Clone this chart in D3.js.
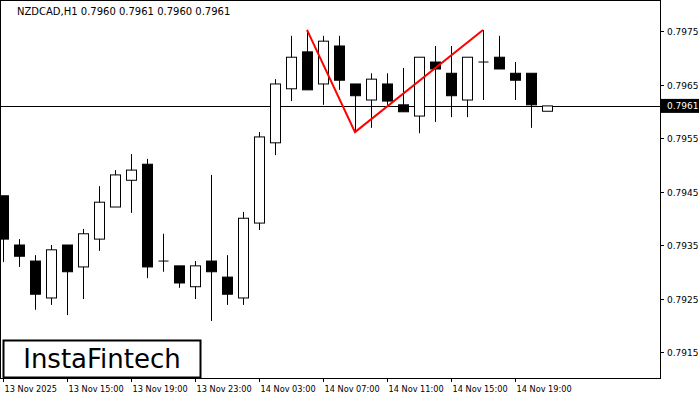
<!DOCTYPE html><html><head><meta charset="utf-8"><script src="https://cdn.jsdelivr.net/npm/d3@7"></script>
<style>body{margin:0;background:#fff}svg{display:block}text{font-family:"DejaVu Sans",sans-serif}</style></head><body><svg id="c" width="700" height="400"></svg>
<script>
const title="NZDCAD,H1  0.7960 0.7961 0.7960 0.7961";
const opens =[.79442,.79350,.79320,.79251,.79350,.79309,.79361,.79421,.79471,.79501,.79320,.79311,.79272,.79320,.79290,.79251,.79391,.79541,.79642,.79711,.79651,.79722,.79651,.79621,.79651,.79612,.79591,.79692,.79671,.79621,.79692,.79701,.79671,.79671,.7960];
const highs =[.79442,.79361,.79331,.79350,.79350,.79380,.79460,.79490,.79520,.79511,.79371,.79311,.79320,.79481,.79331,.79412,.79561,.79660,.79741,.79752,.79741,.79741,.79651,.79671,.79671,.79681,.79701,.79722,.79722,.79701,.79752,.79741,.79692,.79671,.7961];
const lows  =[.79318,.79309,.79229,.79238,.79219,.79249,.79339,.79421,.79410,.79288,.79300,.79270,.79249,.79208,.79238,.79238,.79378,.79518,.79619,.79640,.79612,.79640,.79561,.79569,.79612,.79599,.79559,.79580,.79589,.79589,.79621,.79679,.79621,.79569,.7960];
const closes=[.79361,.79329,.79258,.79341,.79300,.79371,.79430,.79481,.79490,.79309,.79320,.79279,.79311,.79300,.79258,.79400,.79552,.79651,.79701,.79640,.79731,.79658,.79629,.79660,.79619,.79599,.79701,.79679,.79629,.79701,.79692,.79679,.79658,.79612,.7961];
const xLabels=["13 Nov 2025","13 Nov 15:00","13 Nov 19:00","13 Nov 23:00","14 Nov 03:00","14 Nov 07:00","14 Nov 11:00","14 Nov 15:00","14 Nov 19:00"];
const yTicks=[0.7915,0.7925,0.7935,0.7945,0.7955,0.7965,0.7975];
const currentPrice=0.7961;
const patternIdx=[19,22,30];
const patternPrice=[0.79752,0.79561,0.79752];

const svg=d3.select("#c");
const x=d3.scaleLinear().domain([0,40]).range([3,643]);
const y=d3.scaleLinear().domain([0.7915,0.7975]).range([352,31]);
const W=660,H=378;
svg.append("rect").attr("x",0.5).attr("y",0.5).attr("width",W).attr("height",H).attr("fill","none").attr("stroke","#000");
svg.append("text").attr("x",17).attr("y",15).attr("font-size",10).text(title);
svg.append("line").attr("x1",0).attr("x2",W).attr("y1",Math.round(y(currentPrice))+.5).attr("y2",Math.round(y(currentPrice))+.5).attr("stroke","#000");
const g=svg.append("g");
opens.forEach((o,i)=>{
  const cx=Math.round(x(i))+.5;
  g.append("line").attr("x1",cx).attr("x2",cx).attr("y1",y(highs[i])).attr("y2",y(lows[i])).attr("stroke","#000");
  const t=y(Math.max(o,closes[i])),b=y(Math.min(o,closes[i]));
  const bull=closes[i]>=o;
  if(Math.abs(b-t)<1.5){g.append("line").attr("x1",cx-5).attr("x2",cx+5).attr("y1",t).attr("y2",t).attr("stroke","#000");}
  else g.append("rect").attr("x",cx-5).attr("y",t).attr("width",10).attr("height",b-t).attr("fill",bull?"#fff":"#000").attr("stroke","#000");
});
svg.append("path").attr("d",d3.line()(patternIdx.map((d,i)=>[x(d),y(patternPrice[i])]))).attr("fill","none").attr("stroke","#f00").attr("stroke-width",2);
yTicks.forEach(v=>{
  const yy=Math.round(y(v))+.5;
  svg.append("line").attr("x1",W).attr("x2",W+4).attr("y1",yy).attr("y2",yy).attr("stroke","#000");
  svg.append("text").attr("x",667).attr("y",yy+3.5).attr("font-size",9).text(v.toFixed(4));
});
const cy=y(currentPrice);
svg.append("rect").attr("x",W+1).attr("y",cy-7).attr("width",38).attr("height",14).attr("fill","#000");
svg.append("text").attr("x",667).attr("y",cy+3.5).attr("font-size",9).attr("fill","#fff").text(currentPrice.toFixed(4));
xLabels.forEach((l,i)=>{
  const xx=Math.round(x(i*4))+.5;
  svg.append("line").attr("x1",xx).attr("x2",xx).attr("y1",H).attr("y2",H+4).attr("stroke","#000");
  svg.append("text").attr("x",xx+1).attr("y",392).attr("font-size",8.2).text(l);
});
svg.append("rect").attr("x",3.5).attr("y",340.5).attr("width",197).attr("height",37).attr("fill","#fff").attr("stroke","#000").attr("stroke-width",2);
svg.append("text").attr("x",102).attr("y",368).attr("text-anchor","middle").attr("font-size",26).attr("font-family","Roboto").text("InstaFintech");
</script></body></html>
